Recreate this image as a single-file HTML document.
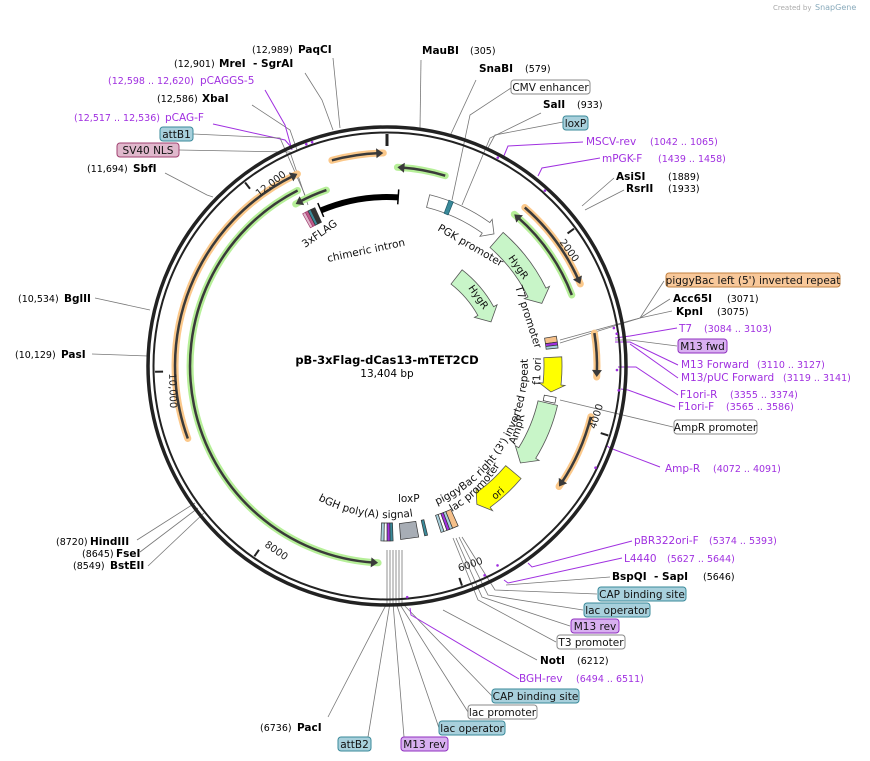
<!DOCTYPE html>
<html><head><meta charset="utf-8">
<style>
html,body{margin:0;padding:0;background:#fff;}
svg{display:block;font-family:"DejaVu Sans","Liberation Sans",sans-serif;}
.l{font-size:10.5px;fill:#000}
.b{font-size:10.5px;font-weight:bold;fill:#000}
.n{font-size:9.5px;fill:#000}
.p{font-size:10.5px;fill:#a030e0}
.pn{font-size:9.5px;fill:#a030e0}
.ln{stroke:#777;stroke-width:0.8;fill:none}
.lp{stroke:#a030e0;stroke-width:1;fill:none}
.bx{font-size:10.5px;fill:#111;text-anchor:middle}
.in{font-size:10.5px;fill:#111}
</style></head>
<body>
<svg id="s" width="870" height="761" viewBox="0 0 870 761" xmlns="http://www.w3.org/2000/svg">
<text x="773" y="10" style="font-size:7px;fill:#aaa">Created by</text>
<text x="815" y="10" style="font-size:8px;fill:#8ab">SnapGene</text>
<g id="lines">
<polyline class="ln" points="333,58 340,128"/>
<polyline class="ln" points="305,73 322,100 333,130"/>
<polyline class="ln" points="252,105 290,130 297,150"/>
<polyline class="lp" points="265,90 285,125 292,150"/>
<polyline class="lp" points="213,124 285,140 292,148"/>
<polyline class="ln" points="193,134 280,138 305,195"/>
<polyline class="ln" points="179,150 290,152 308,205"/>
<polyline class="ln" points="165,173 207,195 213,197"/>
<polyline class="ln" points="421,60 420,128"/>
<polyline class="ln" points="476,80 450,136"/>
<polyline class="ln" points="511,88 470,115 452,200"/>
<polyline class="ln" points="541,113 490,138 462,205"/>
<polyline class="ln" points="563,122 495,135 488,148"/>
<polyline class="lp" points="583,142 508,146 503,158"/>
<polyline class="lp" points="600,158 542,168 538,176"/>
<polyline class="ln" points="614,178 582,206"/>
<polyline class="ln" points="624,190 585,210"/>
<polyline class="ln" points="664,281 640,318 560,340"/>
<polyline class="ln" points="670,299 640,318 560,343"/>
<polyline class="ln" points="672,311 640,318"/>
<polyline class="lp" points="677,328 630,336 615,338"/>
<polyline class="ln" points="677,346 630,340 615,340"/>
<polyline class="lp" points="678,365 630,342 615,342"/>
<polyline class="lp" points="678,378 630,344"/>
<polyline class="lp" points="678,395 636,367 618,367"/>
<polyline class="lp" points="675,407 628,390 621,389"/>
<polyline class="ln" points="673,427 560,400"/>
<polyline class="lp" points="660,467 610,448 606,445"/>
<polyline class="lp" points="632,541 532,567 528,563"/>
<polyline class="lp" points="622,558 508,583 504,580"/>
<polyline class="ln" points="610,577 506,585"/>
<polyline class="ln" points="597,594 495,590 462,537"/>
<polyline class="ln" points="583,610 488,595 459,537"/>
<polyline class="ln" points="570,626 482,597 456,538"/>
<polyline class="ln" points="556,642 478,600 453,538"/>
<polyline class="ln" points="537,660 443,610"/>
<polyline class="ln" points="387,550 387,603 328,717"/>
<polyline class="ln" points="390,550 390,603 368,737"/>
<polyline class="ln" points="393,550 393,603 404,737"/>
<polyline class="ln" points="396,550 396,603 439,728"/>
<polyline class="ln" points="399,550 399,603 468,712"/>
<polyline class="ln" points="402,550 402,603 492,696"/>
<polyline class="lp" points="519,679 411,615 410,608"/>
<polyline class="ln" points="95,298 150,310"/>
<polyline class="ln" points="92,354 148,356"/>
<polyline class="ln" points="137,540 195,503"/>
<polyline class="ln" points="140,552 198,508"/>
<polyline class="ln" points="148,566 204,513"/>
</g>
<circle cx="387" cy="366" r="239" fill="none" stroke="#222" stroke-width="3.5"/>
<circle cx="387" cy="366" r="233.5" fill="none" stroke="#222" stroke-width="2"/>
<line x1="387" y1="134" x2="387" y2="146" stroke="#222" stroke-width="3"/>
<g id="dyn"></g>

<text x="387" y="364" text-anchor="middle" style="font-size:11.5px;font-weight:bold">pB-3xFlag-dCas13-mTET2CD</text>
<text x="387" y="377" text-anchor="middle" style="font-size:10.5px">13,404 bp</text>

<text class="in" transform="translate(305,248) rotate(-35)">3xFLAG</text>
<text class="in" transform="translate(328,262) rotate(-12)">chimeric intron</text>
<text class="in" transform="translate(437,230) rotate(30)">PGK promoter</text>
<text class="in" transform="translate(508,258) rotate(55)" style="font-size:10px">HygR</text>
<text class="in" transform="translate(468,288) rotate(55)" style="font-size:10px">HygR</text>
<text class="in" transform="translate(515,287) rotate(72)">T7 promoter</text>
<text class="in" transform="translate(540,385) rotate(-88)">f1 ori</text>
<text class="in" transform="translate(495,500) rotate(-40)" style="font-size:10px">ori</text>
<path id="tp1" d="M 437,505 A 152 152 0 0 0 527,350" fill="none"/>
<text class="in"><textPath href="#tp1">piggyBac right (3') inverted repeat</textPath></text>
<path id="tp2" d="M 452,512 A 138 138 0 0 0 518,420" fill="none"/>
<text class="in"><textPath href="#tp2">lac promoter</textPath></text>
<path id="tp3" d="M 515,445 A 138 138 0 0 0 527,395" fill="none"/>
<text class="in"><textPath href="#tp3">AmpR</textPath></text>
<path id="tp4" d="M 318,500 A 150 150 0 0 0 420,515" fill="none"/>
<text class="in"><textPath href="#tp4">bGH poly(A) signal</textPath></text>
<text class="in" x="398" y="502">loxP</text>

<text class="n" x="252" y="53">(12,989)</text><text class="b" x="298" y="53">PaqCI</text>
<text class="n" x="174" y="67">(12,901)</text><text class="b" x="219" y="67">MreI</text><text class="b" x="253" y="67">- SgrAI</text>
<text class="pn" x="108" y="84">(12,598 .. 12,620)</text><text class="p" x="200" y="84">pCAGGS-5</text>
<text class="n" x="157" y="102">(12,586)</text><text class="b" x="202" y="102">XbaI</text>
<text class="pn" x="74" y="121">(12,517 .. 12,536)</text><text class="p" x="165" y="121">pCAG-F</text>
<rect x="160" y="127" width="33" height="14" rx="3" fill="#a8d0dc" stroke="#3a8a9a"/><text class="bx" x="176.5" y="138">attB1</text>
<rect x="117" y="143" width="62" height="14" rx="3" fill="#e0b8cc" stroke="#a04070"/><text class="bx" x="148" y="154">SV40 NLS</text>
<text class="n" x="87" y="172">(11,694)</text><text class="b" x="133" y="172">SbfI</text>
<text class="b" x="422" y="54">MauBI</text><text class="n" x="470" y="54">(305)</text>
<text class="b" x="479" y="72">SnaBI</text><text class="n" x="525" y="72">(579)</text>
<rect x="511" y="80" width="79" height="14" rx="3" fill="#fff" stroke="#888"/><text class="bx" x="550.5" y="91">CMV enhancer</text>
<text class="b" x="543" y="108">SalI</text><text class="n" x="577" y="108">(933)</text>
<rect x="563" y="116" width="25" height="14" rx="3" fill="#a8d0dc" stroke="#3a8a9a"/><text class="bx" x="575.5" y="127">loxP</text>
<text class="p" x="586" y="145">MSCV-rev</text><text class="pn" x="650" y="145">(1042 .. 1065)</text>
<text class="p" x="602" y="162">mPGK-F</text><text class="pn" x="658" y="162">(1439 .. 1458)</text>
<text class="b" x="616" y="180">AsiSI</text><text class="n" x="668" y="180">(1889)</text>
<text class="b" x="626" y="192">RsrII</text><text class="n" x="668" y="192">(1933)</text>
<rect x="666" y="273" width="174" height="14" rx="3" fill="#f8c89a" stroke="#c08040"/><text class="bx" x="753" y="284">piggyBac left (5') inverted repeat</text>
<text class="b" x="673" y="302">Acc65I</text><text class="n" x="727" y="302">(3071)</text>
<text class="b" x="676" y="315">KpnI</text><text class="n" x="717" y="315">(3075)</text>
<text class="p" x="679" y="332">T7</text><text class="pn" x="704" y="332">(3084 .. 3103)</text>
<rect x="678" y="339" width="49" height="14" rx="3" fill="#d8b0f0" stroke="#9030c0"/><text class="bx" x="702.5" y="350">M13 fwd</text>
<text class="p" x="681" y="368">M13 Forward</text><text class="pn" x="757" y="368">(3110 .. 3127)</text>
<text class="p" x="681" y="381">M13/pUC Forward</text><text class="pn" x="783" y="381">(3119 .. 3141)</text>
<text class="p" x="680" y="398">F1ori-R</text><text class="pn" x="730" y="398">(3355 .. 3374)</text>
<text class="p" x="678" y="410">F1ori-F</text><text class="pn" x="726" y="410">(3565 .. 3586)</text>
<rect x="674" y="420" width="83" height="14" rx="3" fill="#fff" stroke="#888"/><text class="bx" x="715.5" y="431">AmpR promoter</text>
<text class="p" x="665" y="472">Amp-R</text><text class="pn" x="713" y="472">(4072 .. 4091)</text>
<text class="p" x="634" y="544">pBR322ori-F</text><text class="pn" x="709" y="544">(5374 .. 5393)</text>
<text class="p" x="624" y="562">L4440</text><text class="pn" x="667" y="562">(5627 .. 5644)</text>
<text class="b" x="612" y="580">BspQI</text><text class="b" x="654" y="580">- SapI</text><text class="n" x="703" y="580">(5646)</text>
<rect x="598" y="587" width="88" height="14" rx="3" fill="#a8d0dc" stroke="#3a8a9a"/><text class="bx" x="642" y="598">CAP binding site</text>
<rect x="584" y="603" width="66" height="14" rx="3" fill="#a8d0dc" stroke="#3a8a9a"/><text class="bx" x="617" y="614">lac operator</text>
<rect x="571" y="619" width="48" height="14" rx="3" fill="#d8b0f0" stroke="#9030c0"/><text class="bx" x="595" y="630">M13 rev</text>
<rect x="557" y="635" width="68" height="14" rx="3" fill="#fff" stroke="#888"/><text class="bx" x="591" y="646">T3 promoter</text>
<text class="b" x="540" y="664">NotI</text><text class="n" x="577" y="664">(6212)</text>
<text class="p" x="519" y="682">BGH-rev</text><text class="pn" x="576" y="682">(6494 .. 6511)</text>
<rect x="492" y="689" width="87" height="14" rx="3" fill="#a8d0dc" stroke="#3a8a9a"/><text class="bx" x="535.5" y="700">CAP binding site</text>
<rect x="468" y="705" width="69" height="14" rx="3" fill="#fff" stroke="#888"/><text class="bx" x="502.5" y="716">lac promoter</text>
<rect x="439" y="721" width="66" height="14" rx="3" fill="#a8d0dc" stroke="#3a8a9a"/><text class="bx" x="472" y="732">lac operator</text>
<rect x="401" y="737" width="47" height="14" rx="3" fill="#d8b0f0" stroke="#9030c0"/><text class="bx" x="424.5" y="748">M13 rev</text>
<rect x="338" y="737" width="33" height="14" rx="3" fill="#a8d0dc" stroke="#3a8a9a"/><text class="bx" x="354.5" y="748">attB2</text>
<text class="n" x="260" y="731">(6736)</text><text class="b" x="297" y="731">PacI</text>
<text class="n" x="56" y="545">(8720)</text><text class="b" x="90" y="545">HindIII</text>
<text class="n" x="82" y="557">(8645)</text><text class="b" x="116" y="557">FseI</text>
<text class="n" x="73" y="569">(8549)</text><text class="b" x="110" y="569">BstEII</text>
<text class="n" x="15" y="358">(10,129)</text><text class="b" x="61" y="358">PasI</text>
<text class="n" x="18" y="302">(10,534)</text><text class="b" x="64" y="302">BglII</text>
</svg>
<script>
var cx=387,cy=366,NS="http://www.w3.org/2000/svg",g=document.getElementById("dyn");
function P(r,a){a=a*Math.PI/180;return [cx+r*Math.sin(a),cy-r*Math.cos(a)];}
function el(t,at){var e=document.createElementNS(NS,t);for(var k in at)e.setAttribute(k,at[k]);g.appendChild(e);return e;}
function arcD(r,a1,a2){var p=P(r,a1),q=P(r,a2),cw=a2>a1?1:0,lg=Math.abs(a2-a1)>180?1:0;
 return "M"+p[0].toFixed(1)+","+p[1].toFixed(1)+" A"+r+","+r+" 0 "+lg+" "+cw+" "+q[0].toFixed(1)+","+q[1].toFixed(1);}
function orf(r,a1,a2,halo){
 var h=Math.sign(a2-a1)*(7/r*180/Math.PI);
 el("path",{d:arcD(r,a1,a2),stroke:halo,"stroke-width":7,fill:"none","stroke-linecap":"round"});
 el("path",{d:arcD(r,a1,a2-h*0.6),stroke:"#3a3a3a","stroke-width":2.5,fill:"none"});
 var t=P(r,a2),b1=P(r+5,a2-h),b2=P(r-5,a2-h);
 el("path",{d:"M"+t+" L"+b1+" L"+b2+" Z",fill:"#3a3a3a"});
}
function feat(r,w,a1,a2,fill,stroke,hd){
 var s=Math.sign(a2-a1),h=(hd||10)/r*180/Math.PI*s,am=a2-h;
 var o1=P(r+w/2,a1),o2=P(r+w/2,am),oo=P(r+w/2+4,am),t=P(r,a2),ii=P(r-w/2-4,am),i2=P(r-w/2,am),i1=P(r-w/2,a1);
 var cw=s>0?1:0,ccw=s>0?0:1;
 var d="M"+o1+" A"+(r+w/2)+","+(r+w/2)+" 0 0 "+cw+" "+o2+" L"+oo+" L"+t+" L"+ii+" L"+i2+" A"+(r-w/2)+","+(r-w/2)+" 0 0 "+ccw+" "+i1+" Z";
 el("path",{d:d,fill:fill,stroke:stroke,"stroke-width":0.8});
}
function block(r,w,a1,a2,fill,stroke){
 var o1=P(r+w/2,a1),o2=P(r+w/2,a2),i2=P(r-w/2,a2),i1=P(r-w/2,a1);
 el("path",{d:"M"+o1+" L"+o2+" L"+i2+" L"+i1+" Z",fill:fill,stroke:stroke||"#333","stroke-width":0.7});
}
var OR="#fbc88a",GR="#b6ef98";
orf(213,-15,-1,OR); orf(199,17,3,GR);
orf(210,41,67,OR); orf(198,69,40,GR);
orf(210,81,93,OR); orf(210,104,125,OR);
orf(212,250,335,OR); orf(197,333,182.6,GR);
orf(186,341,330.6,GR);
el("path",{d:arcD(169,337,363.8),stroke:"#000","stroke-width":6,fill:"none"});
var a=P(162,3.8),b=P(177,3.8);el("line",{x1:a[0],y1:a[1],x2:b[0],y2:b[1],stroke:"#000","stroke-width":1.5});
a=P(162,337);b=P(177,337);el("line",{x1:a[0],y1:a[1],x2:b[0],y2:b[1],stroke:"#000","stroke-width":1.5});
feat(170,13,14,39,"#fff","#666",10);
block(170,14,20.5,22,"#3a8a9a","#1d5a6a");
feat(167,20,41,68,"#c8f5c8","#555",12);
feat(113,18,38,67,"#c8f5c8","#555",12);
feat(166,18,87,99,"#ffff00","#555",8);
block(166,12,80,82,"#f5c08a");block(166,12,82,83,"#a030e0");block(166,12,83,84,"#a8d0dc");
block(166,12,100.5,102.5,"#fff");
feat(165,20,103,126,"#c8f5c8","#555",12);
feat(165,20,130,147,"#ffff00","#555",9);
block(166,18,156,158,"#f5c08a");block(166,18,158,159,"#a8d0dc");block(166,18,159,160,"#a030e0");block(166,18,160,161,"#fff");block(166,18,161,162,"#a8d0dc");
block(166,16,166.5,167.5,"#3a8a9a");
block(166,16,169.5,175.5,"#a7adb5");
block(166,18,178,179,"#3a8a9a");block(166,18,179,180,"#a030e0");block(166,18,180,181,"#fff");block(166,18,181,182,"#a8d0dc");
block(166,16,331,332,"#e0b8cc","#a04070");block(166,16,332,333,"#c05a8a","#a04070");block(166,16,333,334,"#3a8a9a");block(166,16,334,335.5,"#333");
var tk=[[2000,"2000"],[4000,"4000"],[6000,"6000"],[8000,"8000"],[10000,"10,000"],[12000,"12,000"]];
tk.forEach(function(t){var an=t[0]/13404*360,p=P(232,an),q=P(224,an);
 el("line",{x1:p[0],y1:p[1],x2:q[0],y2:q[1],stroke:"#222","stroke-width":2});
 var rot=an<90?an:(an<270?an-180:an-360),c=P(220,an);
 var tx=el("text",{x:0,y:0,"text-anchor":"start",transform:"translate("+c[0]+","+c[1]+") rotate("+rot+") translate(2,"+(an>90&&an<270?-2:8)+")",style:"font-size:10px;fill:#222"});
 tx.textContent=t[1];});
[[-20,236],[-18.5,236],[28,236],[42,236],[80.5,230],[82,232],[91,230],[96,233],[116,232],[151,228],[155,231],[175,232]].forEach(function(m){var p=P(m[1],m[0]);el("circle",{cx:p[0],cy:p[1],r:1.3,fill:"#a030e0"});});
</script>
</body></html>
